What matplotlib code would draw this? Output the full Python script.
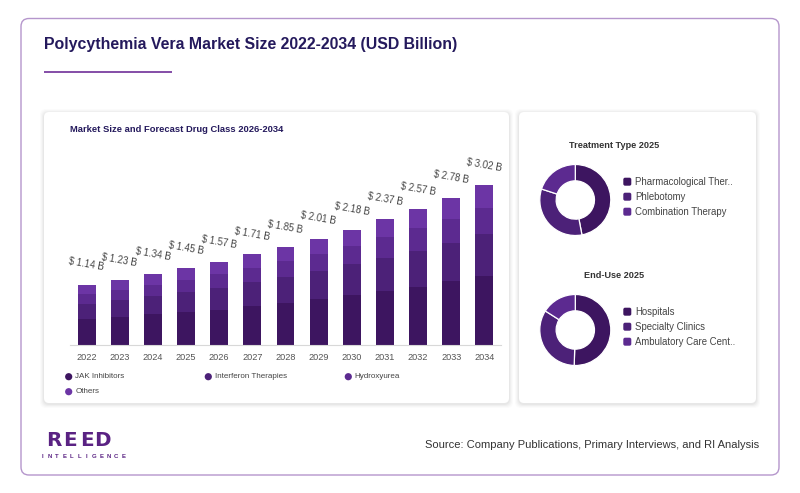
import matplotlib
matplotlib.use('Agg')
import numpy as np
import matplotlib.pyplot as plt
from matplotlib.patches import FancyBboxPatch, Circle

plt.rcParams['font.family'] = ['Liberation Sans', 'DejaVu Sans']

# data
years = ['2022', '2023', '2024', '2025', '2026', '2027', '2028',
         '2029', '2030', '2031', '2032', '2033', '2034']
totals = [1.14, 1.23, 1.34, 1.45, 1.57, 1.71, 1.85, 2.01, 2.18, 2.37, 2.57, 2.78, 3.02]
jak = [0.49, 0.53, 0.58, 0.63, 0.67, 0.73, 0.80, 0.87, 0.94, 1.02, 1.10, 1.20, 1.30]
interferon = [0.29, 0.32, 0.35, 0.37, 0.41, 0.46, 0.49, 0.52, 0.58, 0.63, 0.68, 0.73, 0.80]
hydroxyurea = [0.19, 0.19, 0.21, 0.23, 0.26, 0.27, 0.29, 0.33, 0.34, 0.38, 0.42, 0.45, 0.48]
others = [0.17, 0.19, 0.20, 0.22, 0.23, 0.25, 0.27, 0.29, 0.32, 0.34, 0.37, 0.40, 0.44]
series_names = ['JAK Inhibitors', 'Interferon Therapies', 'Hydroxyurea', 'Others']
series_colors = ['#3d1560', '#4c2178', '#5c2a90', '#6c35a5']

treatment_labels = ['Pharmacological Ther..', 'Phlebotomy', 'Combination Therapy']
treatment_share = [47, 33, 20]
enduse_labels = ['Hospitals', 'Specialty Clinics', 'Ambulatory Care Cent..']
enduse_share = [50.5, 33.5, 16]
donut_colors = ['#3d1560', '#4c2178', '#5c2a90']

W, H = 800, 493
fig = plt.figure(figsize=(W / 100, H / 100), dpi=100)
fig.patch.set_facecolor('white')


def px_axes(left, top, right, bottom, **kw):
    return fig.add_axes([left / W, 1 - bottom / H, (right - left) / W, (bottom - top) / H], **kw)


bg = px_axes(0, 0, W, H)
bg.set_xlim(0, W)
bg.set_ylim(H, 0)
bg.axis('off')
bg.set_zorder(0)

# outer card
bg.add_patch(FancyBboxPatch((21, 18.5), 758, 456.5, boxstyle='round,pad=0,rounding_size=8',
                            fc='white', ec='#b596cc', lw=1.0))
bg.text(44, 45, 'Polycythemia Vera Market Size 2022-2034 (USD Billion)', fontsize=11.4,
        fontweight='bold', color='#24195c', va='center', ha='left')
bg.plot([44, 172], [71.5, 71.5], color='#7b3fa0', lw=1.3, solid_capstyle='butt')

# panels with soft shadow
for (x0, y0, x1, y1) in [(44, 112, 509, 403), (519, 112, 756, 403)]:
    for k, a in [(4, 0.04), (3, 0.05), (2, 0.07), (1, 0.09)]:
        bg.add_patch(FancyBboxPatch((x0 - k, y0 - k + 1), x1 - x0 + 2 * k, y1 - y0 + 2 * k,
                                    boxstyle='round,pad=0,rounding_size=6',
                                    fc='#9a9a9a', ec='none', alpha=a))
    bg.add_patch(FancyBboxPatch((x0, y0), x1 - x0, y1 - y0, boxstyle='round,pad=0,rounding_size=5',
                                fc='white', ec='none'))

bg.text(70, 130, 'Market Size and Forecast Drug Class 2026-2034', fontsize=6.75, fontweight='bold',
        color='#24195c', va='center', ha='left')

# stacked bars
ax = px_axes(70, 150, 501, 345)
ax.set_zorder(1)
ax.patch.set_alpha(0)
x = np.arange(len(years))
bottom = np.zeros(len(years))
for vals, col in zip([jak, interferon, hydroxyurea, others], series_colors):
    ax.bar(x, vals, bottom=bottom, width=0.54, color=col, lw=0)
    bottom += np.array(vals)
for i, t in enumerate(totals):
    ax.annotate(f'$ {t:.2f} B', (i, bottom[i]), xytext=(0, 14.5), textcoords='offset points',
                ha='center', va='center', rotation=-10, rotation_mode='anchor',
                fontsize=6.9, color='#444444')
ax.set_xlim(-0.5, 12.5)
ax.set_ylim(0, 3.02 * 195 / 160)
ax.set_xticks(x, years)
ax.tick_params(axis='x', length=0, pad=6, labelsize=6.6, labelcolor='#555555')
ax.set_yticks([])
for s in ['top', 'right', 'left']:
    ax.spines[s].set_visible(False)
ax.spines['bottom'].set_color('#d8d8d8')
ax.spines['bottom'].set_linewidth(0.8)

# bar legend
leg_pos = [(68.7, 376.7), (208.3, 376.7), (348.3, 376.7), (68.7, 391.7)]
for (lx, ly), name, col in zip(leg_pos, series_names, series_colors):
    bg.add_patch(Circle((lx, ly), 3.6, fc=col, ec='none'))
    bg.text(lx + 6.5, ly, name, fontsize=5.8, color='#444444', va='center', ha='left')

# donuts
donuts = [('Treatment Type 2025', 145.7, 200, treatment_share, treatment_labels, 181.7),
          ('End-Use 2025', 275.7, 330, enduse_share, enduse_labels, 311.7)]
for title, ty, cy, shares, labels, ly0 in donuts:
    bg.text(614, ty, title, fontsize=6.6, fontweight='bold', color='#333333', ha='center', va='center')
    r = 35.5
    dax = px_axes(575.3 - r, cy - r, 575.3 + r, cy + r)
    dax.set_zorder(1)
    dax.pie(shares, colors=donut_colors, startangle=90, counterclock=False, radius=1,
            wedgeprops=dict(width=0.46, edgecolor='white', linewidth=0.9))
    dax.set_xlim(-1, 1)
    dax.set_ylim(-1, 1)
    dax.set_aspect('equal')
    dax.axis('off')
    for j, (lab, col) in enumerate(zip(labels, donut_colors)):
        yy = ly0 + 15 * j
        bg.add_patch(FancyBboxPatch((623.3, yy - 4), 8, 8, boxstyle='round,pad=0,rounding_size=1.8',
                                    fc=col, ec='none'))
        bg.text(635, yy, lab, fontsize=6.9, color='#444444', va='center', ha='left')

# footer
for ch, cx in zip('REED', [54, 70, 86.5, 102.5]):
    bg.text(cx, 441, ch, fontsize=14.3, fontweight='bold', color='#5a2283', ha='center', va='center',
            family=['DejaVu Sans'])
intel = 'INTELLIGENCE'
for k, ch in enumerate(intel):
    bg.text(42.5 + k * 7.35, 456.2, ch, fontsize=4.3, fontweight='bold', color='#5a2283',
            ha='center', va='center')
bg.text(759, 445, 'Source: Company Publications, Primary Interviews, and RI Analysis', fontsize=8,
        color='#333333', ha='right', va='center')

fig.savefig('out.png', dpi=100, facecolor='white')
